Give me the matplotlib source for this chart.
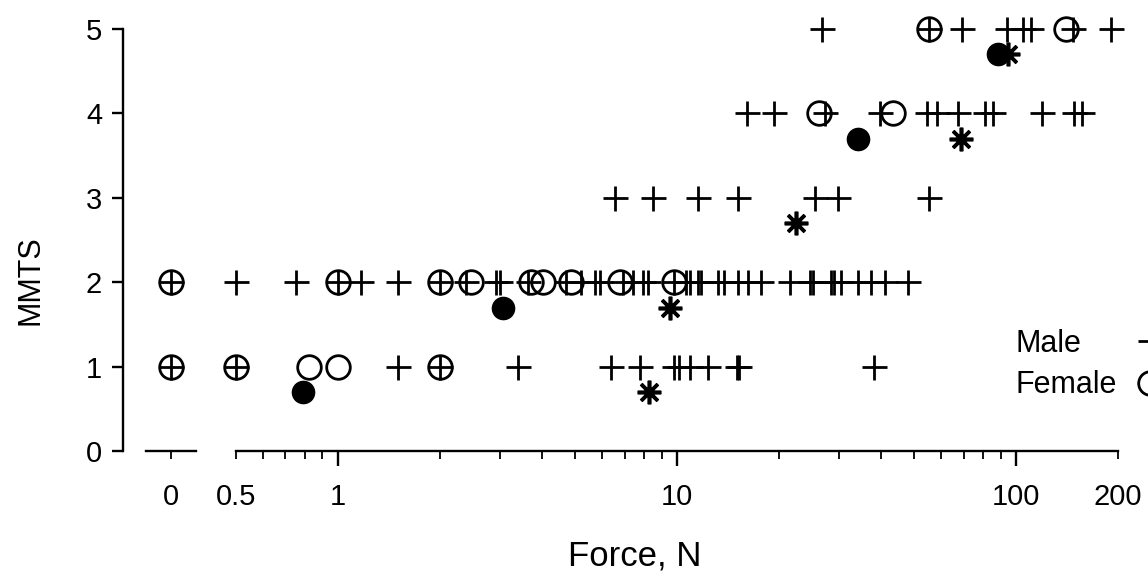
import numpy as np
import matplotlib
matplotlib.use("Agg")
import matplotlib.pyplot as plt
from matplotlib.ticker import FixedLocator, FixedFormatter

plt.rcParams['font.family'] = ['Liberation Sans', 'DejaVu Sans']

# ---- data (Force in N for each MMTS level) ----
male_force_mmts1 = [0, 0.5, 1.5, 2.0, 3.4, 6.4, 7.8, 9.8, 10.1, 10.9, 12.3, 15.0, 15.2, 38]
female_force_mmts1 = [0, 0.5, 0.82, 1.0, 2.0]
male_force_mmts2 = [0, 0.5, 0.75, 1.0, 1.17, 1.5, 2.0, 2.38, 2.92, 3.0, 3.63, 4.7, 5.21,
                    5.73, 5.93, 6.93, 7.42, 7.93, 8.21, 9.8, 10.6, 10.9, 11.5, 11.8, 13.2,
                    13.8, 15.1, 16.2, 17.7, 21.5, 24.6, 25.2, 28.5, 29.0, 30.5, 34.2, 37.3,
                    41.1, 48.0]
female_force_mmts2 = [0, 1.0, 2.0, 2.47, 3.71, 4.02, 4.87, 6.79, 9.8]
male_force_mmts3 = [6.56, 8.5, 11.5, 15.1, 25.5, 29.9, 55.4]
female_force_mmts3 = []
male_force_mmts4 = [16.1, 19.3, 27.3, 39.7, 54.6, 58.3, 67.3, 81.1, 85.6, 119.5, 147.7, 156.6]
female_force_mmts4 = [26.3, 43.3]
male_force_mmts5 = [26.8, 55.4, 69.3, 94.0, 105, 111, 147, 191]
female_force_mmts5 = [55.4, 140]

mmts_levels = [1, 2, 3, 4, 5]
male_by_level = [male_force_mmts1, male_force_mmts2, male_force_mmts3, male_force_mmts4, male_force_mmts5]
female_by_level = [female_force_mmts1, female_force_mmts2, female_force_mmts3, female_force_mmts4, female_force_mmts5]

female_mean_force = [0.79, 3.07, 34.2, 88.5]
female_mean_mmts = [0.7, 1.7, 3.7, 4.7]
male_mean_force = [8.27, 9.53, 22.4, 68.8, 94.7]
male_mean_mmts = [0.7, 1.7, 2.7, 3.7, 4.7]

x_major = [1, 10, 100]
x_major_labels = ['1', '10', '100']
x_minor = [0.5, 0.6, 0.7, 0.8, 0.9, 2, 3, 4, 5, 6, 7, 8, 9,
           20, 30, 40, 50, 60, 70, 80, 90, 200]
x_minor_labels = ['0.5'] + [''] * 20 + ['200']
y_ticks = [0, 1, 2, 3, 4, 5]

# ---- figure ----
W, H = 1148, 573
fig = plt.figure(figsize=(W / 100, H / 100), dpi=100)
bottom = (H - 451) / H
height = 422 / H
ax = fig.add_axes([123 / W, bottom, 1 - 123 / W, height])
ax0 = fig.add_axes([146 / W, bottom, 50 / W, height])
ax0.patch.set_visible(False)

ax.set_xscale('log')
ax.set_xlim(10 ** -0.634, 10 ** 2.389)
ax.set_ylim(0, 5)
ax0.set_xlim(-1, 1)
ax0.set_ylim(0, 5)

lw = 1.7
tick_fs = 21
plus_kw = dict(marker='+', linestyle='none', color='black', markersize=18, mew=2.0, clip_on=False)
circ_kw = dict(marker='o', linestyle='none', mfc='none', mec='black', markersize=17, mew=2.0, clip_on=False)

for lvl, mvals, fvals in zip(mmts_levels, male_by_level, female_by_level):
    mv = np.array(mvals, dtype=float)
    fv = np.array(fvals, dtype=float)
    if mv.size:
        ax.plot(mv[mv > 0], np.full((mv > 0).sum(), lvl), **plus_kw)
        ax0.plot(mv[mv == 0], np.full((mv == 0).sum(), lvl), **plus_kw)
    if fv.size:
        ax.plot(fv[fv > 0], np.full((fv > 0).sum(), lvl), **circ_kw)
        ax0.plot(fv[fv == 0], np.full((fv == 0).sum(), lvl), **circ_kw)

ax.plot(female_mean_force, female_mean_mmts, marker='o', linestyle='none', color='black',
        markersize=16, clip_on=False)
ax.plot(male_mean_force, male_mean_mmts, marker=(8, 2, 0), linestyle='none', color='black',
        markersize=17, mew=2.6, clip_on=False)

# spines
for a in (ax, ax0):
    a.spines['top'].set_visible(False)
    a.spines['right'].set_visible(False)
    a.spines['bottom'].set_linewidth(lw)
    a.spines['left'].set_linewidth(lw)
ax0.spines['left'].set_visible(False)
ax.spines['bottom'].set_bounds(0.5, 200)

# x ticks
ax.xaxis.set_major_locator(FixedLocator(x_major))
ax.xaxis.set_major_formatter(FixedFormatter(x_major_labels))
ax.xaxis.set_minor_locator(FixedLocator(x_minor))
ax.xaxis.set_minor_formatter(FixedFormatter(x_minor_labels))
ax.tick_params(axis='x', which='major', length=11, width=lw, pad=12, labelsize=tick_fs, direction='out')
ax.tick_params(axis='x', which='minor', length=6, width=1.3, pad=17, labelsize=tick_fs, direction='out')

ax0.set_xticks([0])
ax0.set_xticklabels(['0'])
ax0.set_yticks([])
ax0.tick_params(axis='x', which='major', length=6, width=1.3, pad=17, labelsize=tick_fs, direction='out')

# y ticks
ax.set_yticks(y_ticks)
ax.set_yticklabels([str(v) for v in y_ticks])
ax.tick_params(axis='y', length=8, width=lw, pad=7, labelsize=tick_fs, direction='out')

# labels
ax.set_xlabel('Force, N', fontsize=25)
ax.xaxis.set_label_coords(0.4995, -0.249)
ax.xaxis.label.set_va('center')
ax.set_ylabel('MMTS', fontsize=22)
ax.yaxis.set_label_coords(-0.0907, 0.405)
ax.yaxis.label.set_va('center')

# legend (partially cut off at right edge, as in original)
fig.text(1015 / W, 1 - 352 / H, 'Male', fontsize=22, ha='left', va='baseline')
fig.text(1015 / W, 1 - 393 / H, 'Female', fontsize=22, ha='left', va='baseline')
fig.lines.append(plt.Line2D([1150 / W], [1 - 341 / H], transform=fig.transFigure,
                            marker='+', color='black', markersize=18, mew=2.0, linestyle='none'))
fig.lines.append(plt.Line2D([1150 / W], [1 - 383 / H], transform=fig.transFigure,
                            marker='o', mfc='none', mec='black', markersize=17, mew=2.0, linestyle='none'))

fig.savefig('out.png', dpi=100)
